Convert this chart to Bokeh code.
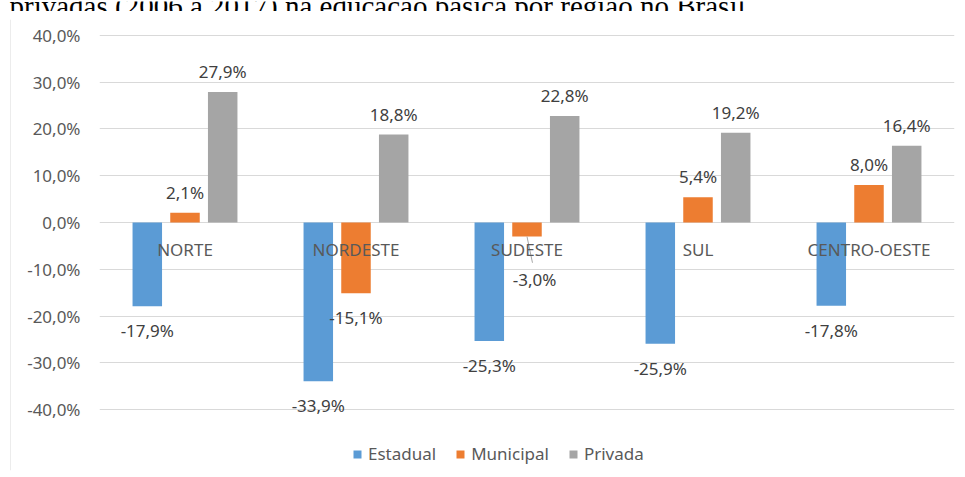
from bokeh.plotting import figure
from bokeh.models import (ColumnDataSource, FixedTicker, CustomJSTickFormatter, Legend,
                          LegendItem, FactorRange, Range1d)
from bokeh.transform import dodge
from bokeh.layouts import column, row
from bokeh.embed import file_html
from bokeh.resources import INLINE
from bokeh.core.properties import value

# ---------------- data ----------------
regions = ["NORTE", "NORDESTE", "SUDESTE", "SUL", "CENTRO-OESTE"]
estadual = [-17.9, -33.9, -25.3, -25.9, -17.8]
municipal = [2.1, -15.1, -3.0, 5.4, 8.0]
privada = [27.9, 18.8, 22.8, 19.2, 16.4]
series_names = ["Estadual", "Municipal", "Privada"]
y_ticks = [-40, -30, -20, -10, 0, 10, 20, 30, 40]
title_text = "privadas (2006 a 2017) na educação básica por região no Brasil"

# ---------------- style ----------------
colors = ["#5B9BD5", "#ED7D31", "#A5A5A5"]
offsets = [-0.2205, 0.0, 0.2205]
bar_width = 0.1725
FONT = "Noto Sans"
FS = "17px"
# manual nudge of one label (pixel offsets) plus its leader line
nudges = {("Municipal", "SUDESTE"): (7.5, 19.0)}
leader = {("Municipal", "SUDESTE"): (0.032, -5.6)}


def fmt(v):
    return f"{v:.1f}".replace(".", ",") + "%"


values = dict(zip(series_names, [estadual, municipal, privada]))

# ---------------- title strip (document caption, clipped by the chart box) ----------------
t = figure(width=965, height=11, x_range=Range1d(0, 965), y_range=Range1d(0, 11),
           x_axis_location=None, y_axis_location=None, toolbar_location=None,
           output_backend="svg", min_border=0, outline_line_color=None)
t.grid.visible = False
t.text(x=[9], y=[6.5], text=[title_text], text_font=value("Liberation Serif"),
       text_font_size="29px", text_baseline="alphabetic", text_align="left", text_color="black")
t.segment(x0=[10], y0=[0.5], x1=[965], y1=[0.5], line_color="#d9d9d9", line_width=1)

# ---------------- left border strip ----------------
s = figure(width=11, height=466, x_range=Range1d(0, 11), y_range=Range1d(0, 466),
           x_axis_location=None, y_axis_location=None, toolbar_location=None,
           output_backend="svg", min_border=0, outline_line_color=None)
s.grid.visible = False
s.segment(x0=[10.5], y0=[0], x1=[10.5], y1=[466], line_color="#d9d9d9", line_width=1)

# ---------------- main chart ----------------
p = figure(width=954, height=466,
           x_range=FactorRange(factors=regions, range_padding=0),
           y_range=Range1d(-53.0, 43.4),
           x_axis_location=None, toolbar_location=None, output_backend="svg",
           min_border_left=88, min_border_right=11, min_border_top=8, min_border_bottom=7,
           outline_line_color=None)

p.xgrid.grid_line_color = None
p.ygrid.ticker = FixedTicker(ticks=y_ticks)
p.ygrid.grid_line_color = "#d9d9d9"
p.ygrid.grid_line_width = 1

ax = p.yaxis[0]
ax.ticker = FixedTicker(ticks=y_ticks)
ax.formatter = CustomJSTickFormatter(code="return tick.toFixed(1).replace('.', ',') + '%';")
ax.axis_line_color = None
ax.major_tick_line_color = None
ax.minor_tick_line_color = None
ax.major_tick_out = 0
ax.major_label_standoff = 19
ax.major_label_text_font = FONT
ax.major_label_text_font_size = FS
ax.major_label_text_color = "#595959"

renderers = []
src = ColumnDataSource(dict(region=regions, Estadual=estadual, Municipal=municipal, Privada=privada))
for name, off, col in zip(series_names, offsets, colors):
    r = p.vbar(x=dodge("region", off, range=p.x_range), top=name, bottom=0, width=bar_width,
               source=src, fill_color=col, line_color=None)
    renderers.append(r)

# leader lines
for (name, reg), (dx, dy) in leader.items():
    i = regions.index(reg)
    off = offsets[series_names.index(name)]
    v = values[name][i]
    lsrc = ColumnDataSource(dict(region=[reg], y0=[v], y1=[v + dy]))
    p.segment(x0=dodge("region", off, range=p.x_range), y0="y0",
              x1=dodge("region", off + dx, range=p.x_range), y1="y1",
              source=lsrc, line_color="#a6a6a6", line_width=1)

# category labels at the zero line
csrc = ColumnDataSource(dict(region=regions, zero=[0] * len(regions)))
p.text(x="region", y="zero", text="region", source=csrc, y_offset=26.5,
       text_align="center", text_baseline="middle", text_font=value(FONT),
       text_font_size=FS, text_color="#595959")

# data labels
for name, off in zip(series_names, offsets):
    vals = values[name]
    xo, yo = [], []
    for reg, v in zip(regions, vals):
        dx, dy = nudges.get((name, reg), (0.0, 0.0))
        xo.append(dx)
        yo.append((-20.5 if v >= 0 else 24.3) + dy)
    dsrc = ColumnDataSource(dict(region=regions, val=vals, label=[fmt(v) for v in vals], xo=xo, yo=yo))
    p.text(x=dodge("region", off, range=p.x_range), y="val", text="label", source=dsrc,
           x_offset="xo", y_offset="yo", text_align="center", text_baseline="middle",
           text_font=value(FONT), text_font_size=FS, text_color="#404040")

legend = Legend(items=[LegendItem(label=n, renderers=[r]) for n, r in zip(series_names, renderers)],
                location=(253, 5), orientation="horizontal", glyph_width=10, glyph_height=10,
                label_standoff=6, spacing=19, padding=0, margin=0, border_line_color=None,
                background_fill_alpha=0, label_text_font=FONT, label_text_font_size=FS,
                label_text_color="#595959")
p.add_layout(legend)

layout = column(t, row(s, p), styles={"position": "absolute", "left": "0px", "top": "0px"})

open("out.html", "w").write(file_html(layout, INLINE))
